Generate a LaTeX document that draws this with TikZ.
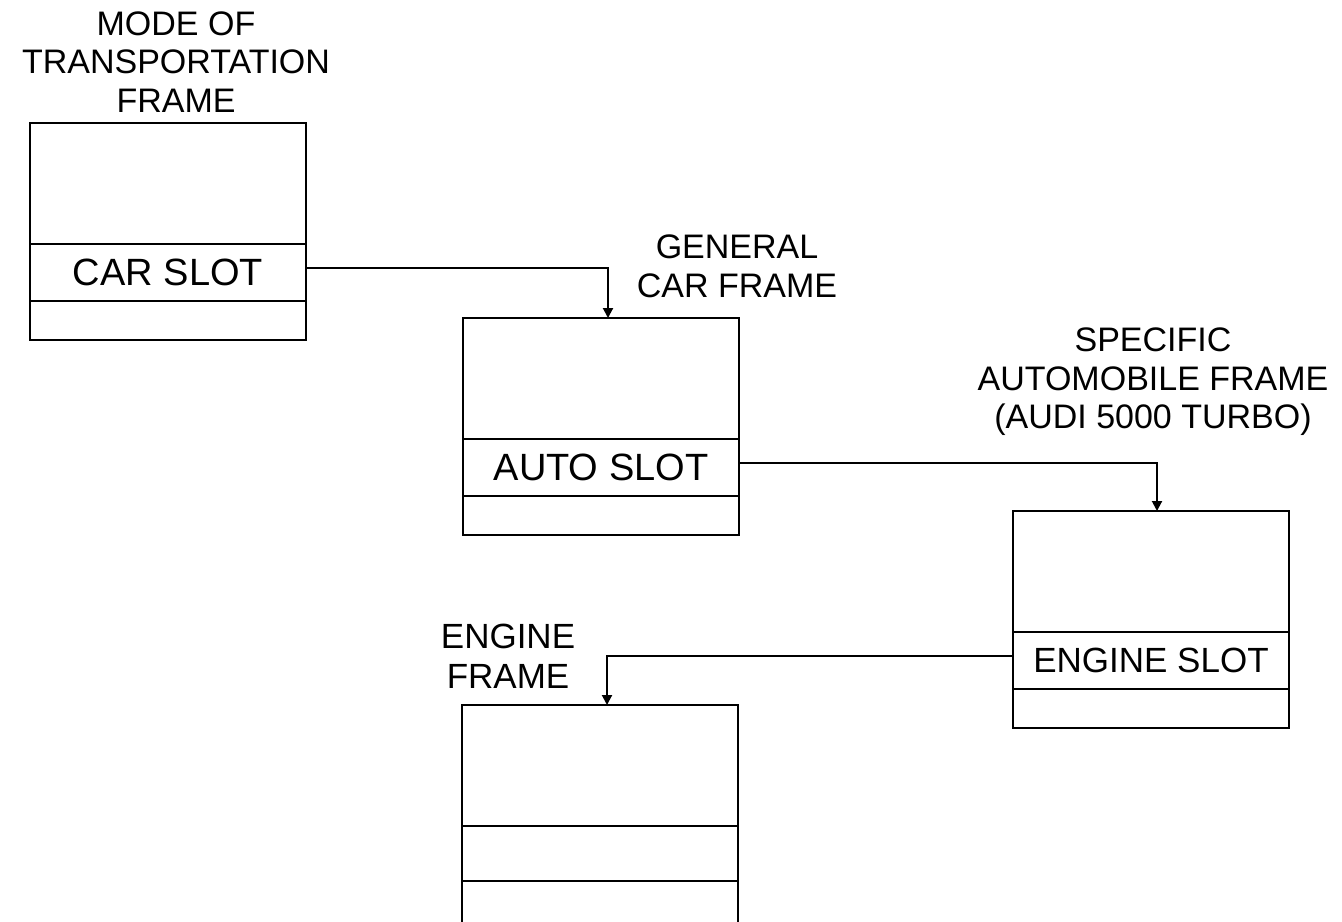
\documentclass[tikz,border=0pt]{standalone}
\usepackage{fontspec}
\setmainfont{Liberation Sans}
\usetikzlibrary{arrows.meta}

\begin{document}
\begin{tikzpicture}[x=0.5pt, y=-0.5pt, line width=1pt,
    cell/.style={draw, anchor=north west, inner sep=0pt, outer sep=0pt, minimum width=138pt},
    topcell/.style={cell, minimum height=60.5pt},
    slotcell/.style={cell, minimum height=28.5pt, font=\fontsize{19}{22}\selectfont},
    botcell/.style={cell, minimum height=19.5pt},
    title/.style={align=center, inner sep=0pt, font=\fontsize{17}{19.3}\selectfont},
    link/.style={-{Triangle[width=5pt,length=5pt]}}]
        % 画布
        \clip (0,0) rectangle (1342,921);

        % 交通方式框架
        \node[topcell] (f1top) at (30,123) {};
        \node[slotcell] (f1slot) at (f1top.south west) {CAR SLOT};
        \node[botcell] (f1bot) at (f1slot.south west) {};
        \node[title] (t1) at (176,62) {MODE OF\\TRANSPORTATION\\FRAME};

        % 一般汽车框架
        \node[topcell] (f2top) at (463,318) {};
        \node[slotcell] (f2slot) at (f2top.south west) {AUTO SLOT};
        \node[botcell] (f2bot) at (f2slot.south west) {};
        \node[title] (t2) at (737,266) {GENERAL\\CAR FRAME};

        % 具体汽车框架
        \node[topcell] (f3top) at (1013,511) {};
        \node[slotcell, font=\fontsize{17.5}{20}\selectfont] (f3slot) at (f3top.south west) {ENGINE SLOT};
        \node[botcell] (f3bot) at (f3slot.south west) {};
        \node[title] (t3) at (1153,382) {SPECIFIC\\AUTOMOBILE FRAME\\(AUDI 5000 TURBO)};

        % 发动机框架 (底部被截断)
        \node[topcell] (f4top) at (462,705) {};
        \node[slotcell, minimum height=27.5pt] (f4slot) at (f4top.south west) {};
        \node[botcell, minimum height=40pt] (f4bot) at (f4slot.south west) {};
        \node[title, font=\fontsize{17.5}{20}\selectfont] (t4) at (508,656) {ENGINE\\FRAME};

        % 连接线
        \draw[link] ([yshift=2.5pt]f1slot.east) -| ([xshift=3.5pt]f2top.north);
        \draw[link] ([yshift=2.5pt]f2slot.east) -| ([xshift=3pt]f3top.north);
        \draw[link] ([yshift=2.5pt]f3slot.west) -| ([xshift=3.5pt]f4top.north);
    \end{tikzpicture}
\end{document}
